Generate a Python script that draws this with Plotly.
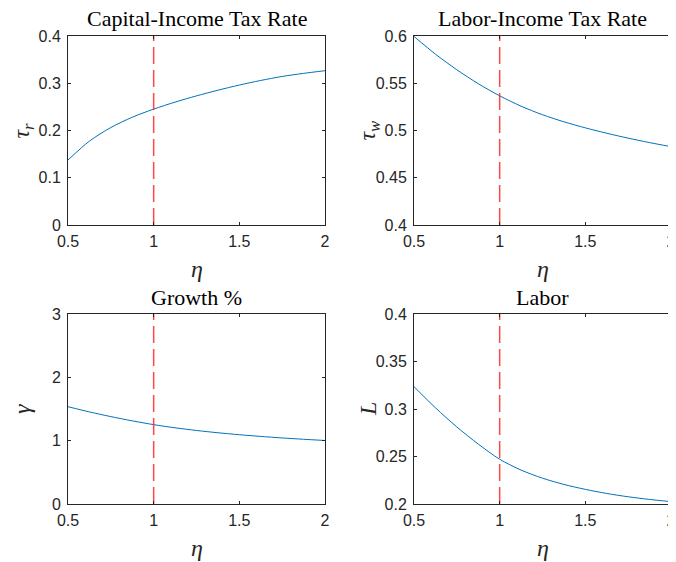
import plotly.graph_objects as go

eta = [0.5, 0.625, 0.75, 0.875, 1.0, 1.125, 1.25, 1.375, 1.5, 1.625, 1.75, 1.875, 2.0]
tau_r = [0.1376, 0.1775, 0.2063, 0.2281, 0.2453, 0.2601, 0.2733, 0.2853, 0.2962, 0.3059, 0.3144, 0.3209, 0.3266]
tau_w = [0.5995, 0.5808, 0.5643, 0.5495, 0.5367, 0.5257, 0.5167, 0.5092, 0.5028, 0.4971, 0.4919, 0.4872, 0.4829]
growth = [1.536, 1.454, 1.380, 1.313, 1.253, 1.203, 1.161, 1.125, 1.094, 1.067, 1.043, 1.022, 1.003]
labor = [0.3235, 0.3013, 0.2811, 0.2631, 0.2471, 0.2357, 0.2272, 0.2206, 0.2154, 0.2111, 0.2076, 0.2048, 0.2025]

titles = ["Capital-Income Tax Rate", "Labor-Income Tax Rate", "Growth %", "Labor"]
ylabels = ["<i>τ<sub>r</sub></i>", "<i>τ<sub>w</sub></i>", "<i>γ</i>", "<i>L</i>"]
yranges = [[0, 0.4], [0.4, 0.6], [0, 3], [0.2, 0.4]]
ydticks = [0.1, 0.05, 1, 0.05]
series = [tau_r, tau_w, growth, labor]
vline_x = 1.0

# page body has an 8px margin; figure laid out in its own pixels
W, H = 668, 554
boxes = [(60, 317, 28, 217), (406, 663, 28, 217), (60, 317, 306, 496), (406, 663, 306, 496)]

fig = go.Figure()
axcol = "#262626"
tickfont = dict(family="Liberation Sans, Arial, sans-serif", size=16, color=axcol)
layout = dict(width=W, height=H, margin=dict(l=0, r=0, t=0, b=0, pad=0, autoexpand=False),
              paper_bgcolor="white", plot_bgcolor="white", showlegend=False)
annotations = []
for i, (x0, x1, y0, y1) in enumerate(boxes):
    xa = "xaxis" if i == 0 else f"xaxis{i+1}"
    ya = "yaxis" if i == 0 else f"yaxis{i+1}"
    xr = "x" if i == 0 else f"x{i+1}"
    yr = "y" if i == 0 else f"y{i+1}"
    layout[xa] = dict(domain=[x0 / W, x1 / W], range=[0.5, 2], anchor=yr, automargin=False,
                      tickvals=[0.5, 1, 1.5, 2], ticktext=["0.5", "1", "1.5", "2"],
                      showgrid=False, zeroline=False, showline=True, linecolor=axcol,
                      linewidth=1, mirror="ticks", ticks="inside", ticklen=3,
                      tickcolor=axcol, tickfont=tickfont, ticklabelstandoff=2,
                      ticklabeloverflow="allow")
    layout[ya] = dict(domain=[1 - y1 / H, 1 - y0 / H], range=yranges[i], anchor=xr, automargin=False,
                      dtick=ydticks[i], showgrid=False, zeroline=False, showline=True,
                      linecolor=axcol, linewidth=1, mirror="ticks", ticks="inside",
                      ticklen=3, tickcolor=axcol, tickfont=tickfont, ticklabelstandoff=3,
                      ticklabeloverflow="allow")
    fig.add_trace(go.Scatter(x=eta, y=series[i], mode="lines", xaxis=xr, yaxis=yr,
                             line=dict(color="#0072BD", width=1, shape="spline", smoothing=0.8)))
    fig.add_trace(go.Scatter(x=[vline_x, vline_x], y=yranges[i], mode="lines", xaxis=xr, yaxis=yr,
                             line=dict(color="rgba(255,50,50,0.9)", width=1.5, dash="17px,6px")))
    cx = (x0 + x1) / 2 / W
    annotations.append(dict(text=titles[i], x=cx, y=1 - (y0 - 17) / H, xref="paper", yref="paper",
                            xanchor="center", yanchor="middle", showarrow=False, borderpad=0,
                            font=dict(family="Liberation Serif, Times New Roman, serif",
                                      size=22, color="black")))
    annotations.append(dict(text="<i>η</i>", x=cx, y=1 - (y1 + 44) / H, xref="paper", yref="paper",
                            xanchor="center", yanchor="middle", showarrow=False,
                            font=dict(family="Liberation Serif, serif", size=24, color=axcol)))
    annotations.append(dict(text=ylabels[i], x=(x0 - 46) / W, y=1 - (y0 + y1) / 2 / H, xref="paper",
                            yref="paper", xanchor="center", yanchor="middle", showarrow=False,
                            textangle=-90,
                            font=dict(family="Liberation Serif, serif", size=24, color=axcol)))
layout["annotations"] = annotations
fig.update_layout(**layout)
fig.write_html("out.html")
